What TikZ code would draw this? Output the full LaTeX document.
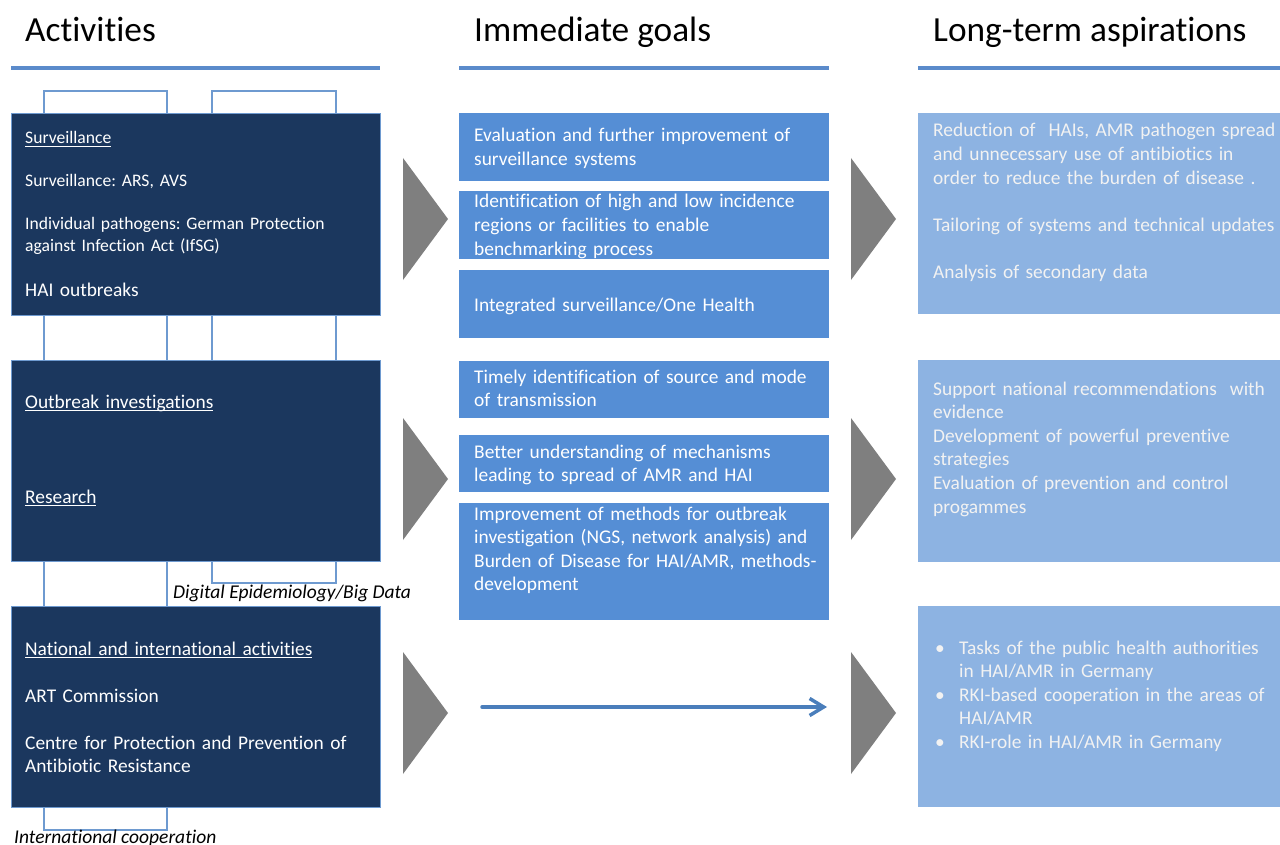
\documentclass[tikz,border=0pt]{standalone}
\usepackage{fontspec}
\setmainfont[Ligatures=NoCommon]{Carlito}
\usetikzlibrary{arrows.meta}
\definecolor{navy}{HTML}{1B375E}
\definecolor{navyedge}{HTML}{6E9AD0}
\definecolor{midblue}{HTML}{558ED5}
\definecolor{lightblue}{HTML}{8DB3E2}
\definecolor{hdrline}{HTML}{5B8BCB}
\definecolor{trigray}{HTML}{7F7F7F}
\definecolor{arrowblue}{HTML}{4A7EBB}
\definecolor{softwhite}{HTML}{F2F2F2}
\newcommand\myul[1]{\setbox0\hbox{#1}\rlap{\rule[-3pt]{\wd0}{1.3pt}}\box0}
\frenchspacing
\tikzset{
  actbox/.style={draw=navyedge, line width=1.2pt, fill=navy, anchor=north west, inner sep=0pt},
  goalbox/.style={fill=midblue, anchor=north west, inner sep=0pt},
  aspbox/.style={fill=lightblue, anchor=north west, inner sep=0pt},
  title/.style={anchor=base west, inner sep=0pt, font=\fontsize{35.3}{42}\selectfont},
  hdr/.style={draw=hdrline, line width=3.5pt},
  txt/.style={anchor=base west, inner sep=0pt, align=left, text width=360pt, font=\fontsize{19.4}{23.6}\selectfont\frenchspacing},
  wtxt/.style={txt, text=white},
  stxt/.style={txt, text=white, font=\fontsize{17.6}{21.5}\selectfont\frenchspacing},
  atxt/.style={txt, text=softwhite},
  lbl/.style={anchor=base west, inner sep=0pt, font=\fontsize{19.5}{21}\selectfont\itshape},
  brk/.style={draw=navyedge, line width=1.5pt},
  trishape/.style={fill=trigray},
  flow/.style={draw=arrowblue, line width=3.5pt, line cap=round, -{Straight Barb[length=14pt,width=17pt]}}
}
\begin{document}
\begin{tikzpicture}[x=1pt,y=-1pt]
\useasboundingbox (0,0) rectangle (1280,845);

% titles
\node[title] (t1) at (25,42) {Activities};
\node[title] (t2) at (474,42) {Immediate goals};
\node[title] (t3) at (933,42) {Long-term aspirations};
\draw[hdr] (11,68) -- (380,68);
\draw[hdr] (459,68) -- (829,68);
\draw[hdr] (918,68) -- (1280,68);

% brackets
\draw[brk] (44,113) -- (44,91) -- (167,91) -- (167,113);
\draw[brk] (212,113) -- (212,91) -- (336,91) -- (336,113);
\draw[brk] (44,315) -- (44,360);
\draw[brk] (167,315) -- (167,360);
\draw[brk] (212,315) -- (212,360);
\draw[brk] (336,315) -- (336,360);
\draw[brk] (44,561) -- (44,606);
\draw[brk] (167,561) -- (167,606);
\draw[brk] (212,561) -- (212,583) -- (336,583) -- (336,561);
\draw[brk] (44,807) -- (44,830) -- (167,830) -- (167,807);

% activity boxes
\node[actbox, minimum width=369pt, minimum height=202pt] (act1) at (11,113) {};
\node[actbox, minimum width=369pt, minimum height=201pt] (act2) at (11,360) {};
\node[actbox, minimum width=369pt, minimum height=201pt] (act3) at (11,606) {};

\node[stxt] (a1a) at (25,144) {\myul{Surveillance}};
\node[stxt] (a1b) at (25,187) {Surveillance: ARS, AVS};
\node[stxt] (a1c) at (25,230) {Individual pathogens: German Protection\\against Infection Act (IfSG)};
\node[wtxt] (a1d) at (25,296) {HAI outbreaks};
\node[wtxt] (a2a) at (25,408) {\myul{Outbreak investigations}};
\node[wtxt] (a2b) at (25,503) {\myul{Research}};
\node[wtxt] (a3a) at (25,655) {\myul{National and international activities}};
\node[wtxt] (a3b) at (25,702) {ART Commission};
\node[wtxt] (a3c) at (25,749) {Centre for Protection and Prevention of\\Antibiotic Resistance};

\node[lbl] (dig) at (173,598) {Digital Epidemiology/Big Data};
\node[lbl] (intl) at (14,843) {International cooperation};

% triangles
\fill[trishape] (403,158) -- (448,219) -- (403,280) -- cycle;
\fill[trishape] (403,418) -- (448,479) -- (403,540) -- cycle;
\fill[trishape] (403,652) -- (448,713) -- (403,774) -- cycle;
\fill[trishape] (851,158) -- (896,219) -- (851,280) -- cycle;
\fill[trishape] (851,418) -- (896,479) -- (851,540) -- cycle;
\fill[trishape] (851,652) -- (896,713) -- (851,774) -- cycle;

% goal boxes
\node[goalbox, minimum width=370pt, minimum height=68pt] (g1) at (459,113) {};
\node[goalbox, minimum width=370pt, minimum height=68pt] (g2) at (459,191) {};
\node[goalbox, minimum width=370pt, minimum height=68pt] (g3) at (459,270) {};
\node[goalbox, minimum width=370pt, minimum height=57pt] (g4) at (459,361) {};
\node[goalbox, minimum width=370pt, minimum height=57pt] (g5) at (459,435) {};
\node[goalbox, minimum width=370pt, minimum height=117pt] (g6) at (459,503) {};

\node[wtxt] (g1t) at (474,142) {Evaluation and further improvement of\\surveillance systems};
\node[wtxt] (g2t) at (474,208) {Identification of high and low incidence\\regions or facilities to enable\\benchmarking process};
\node[wtxt] (g3t) at (474,311) {Integrated surveillance/One Health};
\node[wtxt] (g4t) at (474,383) {Timely identification of source and mode\\of transmission};
\node[wtxt] (g5t) at (474,458) {Better understanding of mechanisms\\leading to spread of AMR and HAI};
\node[wtxt] (g6t) at (474,520) {Improvement of methods for outbreak\\investigation (NGS, network analysis) and\\Burden of Disease for HAI/AMR, methods-\\development};

% arrow
\coordinate (arrS) at (482,707);
\coordinate (arrE) at (827,707);
\draw[flow] (arrS) -- (arrE);

% aspiration boxes
\node[aspbox, minimum width=362pt, minimum height=201pt] (r1) at (918,113) {};
\node[aspbox, minimum width=362pt, minimum height=202pt] (r2) at (918,360) {};
\node[aspbox, minimum width=362pt, minimum height=201pt] (r3) at (918,606) {};

\node[atxt] (r1t) at (933,137) {Reduction of\ \ HAIs, AMR pathogen spread\\and unnecessary use of antibiotics in\\order to reduce the burden of disease .\\[23.6pt]Tailoring of systems and technical updates\\[23.6pt]Analysis of secondary data};
\node[atxt] (r2t) at (933,395) {Support national recommendations\ \ with\\evidence\\Development of powerful preventive\\strategies\\Evaluation of prevention and control\\progammes};
\node[atxt] (r3t) at (935,654) {\makebox[24pt][l]{\textbullet}Tasks of the public health authorities\\\hspace*{24pt}in HAI/AMR in Germany\\\makebox[24pt][l]{\textbullet}RKI-based cooperation in the areas of\\\hspace*{24pt}HAI/AMR\\\makebox[24pt][l]{\textbullet}RKI-role in HAI/AMR in Germany};
\end{tikzpicture}
\end{document}
